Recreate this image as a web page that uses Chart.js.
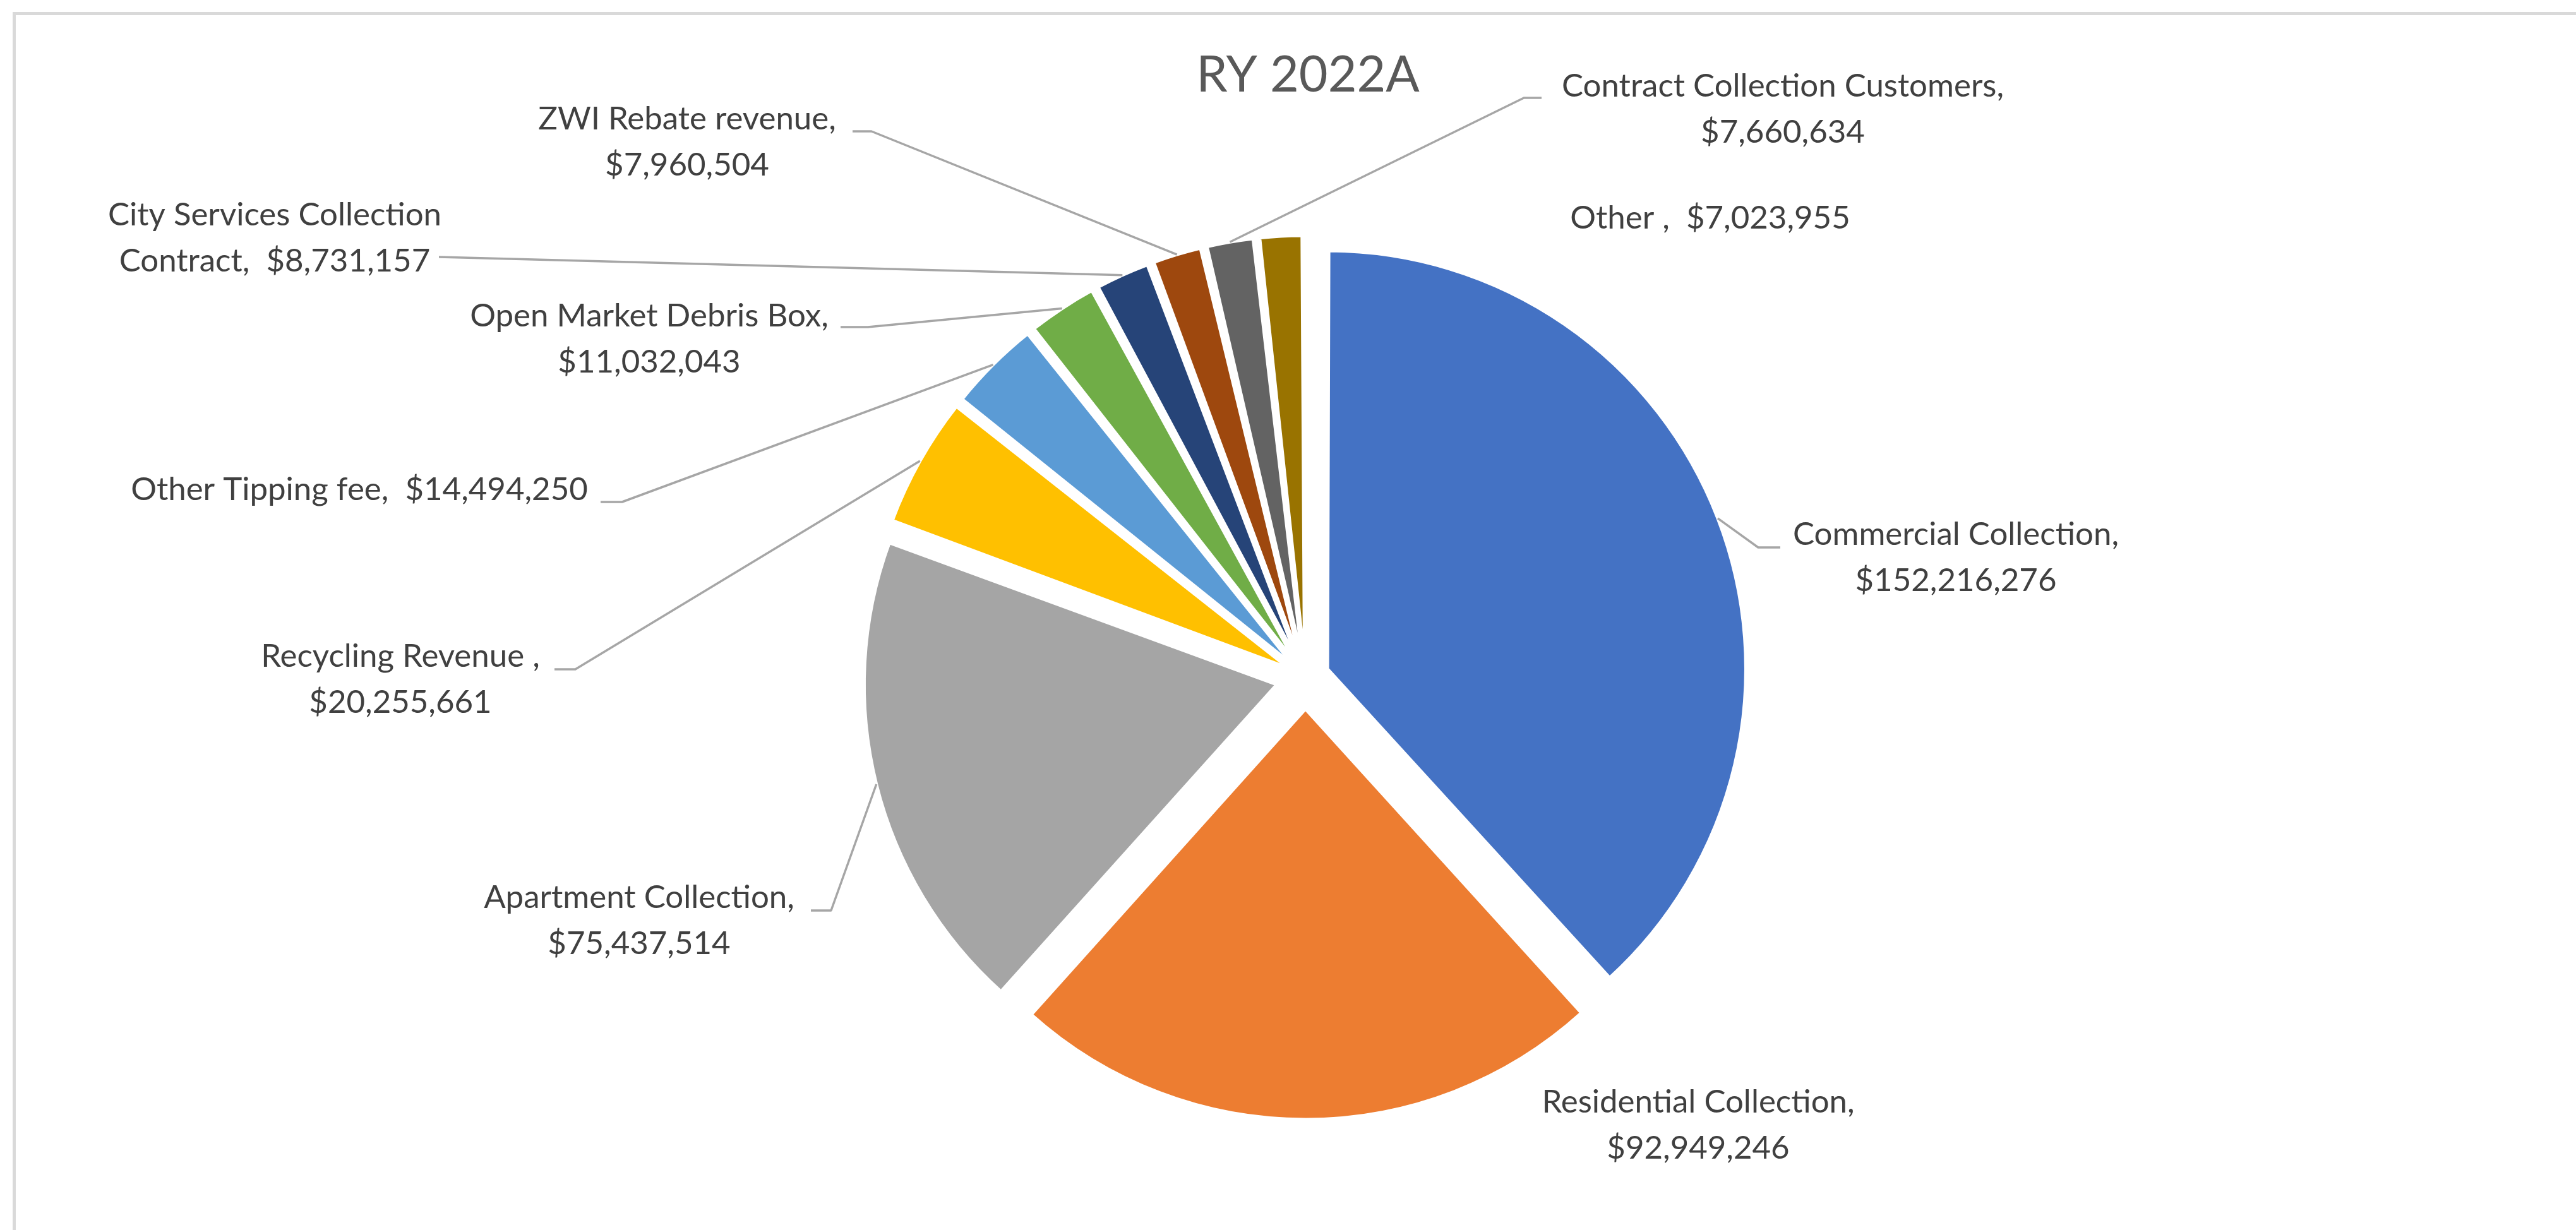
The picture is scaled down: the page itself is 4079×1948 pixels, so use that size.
<!DOCTYPE html>
<html>
<head>
<meta charset="utf-8">
<title>RY 2022A</title>
<script src="https://cdn.jsdelivr.net/npm/chart.js@4.4.1/dist/chart.umd.min.js"></script>
<style>
  html, body { margin: 0; padding: 0; background: #ffffff; overflow: hidden; }
  #wrap { position: relative; width: 100vw; height: 100vh; }
</style>
</head>
<body>
<div id="wrap"><canvas id="revenuePie"></canvas></div>
<script>
// ---- data ----
const chartTitle = 'RY 2022A';

const categories = [
  'Commercial Collection',
  'Residential Collection',
  'Apartment Collection',
  'Recycling Revenue ',
  'Other Tipping fee',
  'Open Market Debris Box',
  'City Services Collection Contract',
  'ZWI Rebate revenue',
  'Contract Collection Customers',
  'Other '
];

const values = [
  152216276,
  92949246,
  75437514,
  20255661,
  14494250,
  11032043,
  8731157,
  7960504,
  7660634,
  7023955
];

const sliceColors = [
  '#4472C4', '#ED7D31', '#A5A5A5', '#FFC000', '#5B9BD5',
  '#70AD47', '#264478', '#9E480E', '#636363', '#997300'
];

// ---- label placement (canvas px): text centre, first baseline, where the
// text wraps (n-th gap between words, 0 = single line) and the leader line
// start / elbow x (null = no leader) ----
const labelLayout = [
  { x: 3097, y: 863,  breakAt: 2, leader: [2819, 867, 2784] },
  { x: 2689, y: 1762, breakAt: 2, leader: null },
  { x: 1012, y: 1438, breakAt: 2, leader: [1284, 1442, 1316] },
  { x: 634,  y: 1056, breakAt: 3, leader: [878, 1060, 911] },
  { x: 569,  y: 792,  breakAt: 0, leader: [951, 795, 985] },
  { x: 1028, y: 517,  breakAt: 4, leader: [1331, 518, 1374] },
  { x: 435,  y: 357,  breakAt: 3, leader: [695, 407, 695] },
  { x: 1088, y: 205,  breakAt: 3, leader: [1350, 208, 1380] },
  { x: 2823, y: 153,  breakAt: 3, leader: [2441, 155, 2413] },
  { x: 2708, y: 362,  breakAt: 0, leader: null }
];

// ---- styling ----
const EXPLODE_PX = 50;          // distance every slice is pulled out
const PIE_RADIUS = 650;
const LABEL_FONT = '51px Lato';
const LABEL_LINE_GAP = 73;
const LABEL_COLOR = '#404040';
const TITLE_FONT = '79px Lato';
const TITLE_COLOR = '#595959';
const LEADER_COLOR = '#A6A6A6';
const FRAME_COLOR = '#D9D9D9';

const total = values.reduce((a, b) => a + b, 0);
const money = v => '$' + v.toLocaleString('en-US');

// Chart.js pulls an arc out by offset/4 * (2 - sin(angle)); invert that so
// every slice moves the same distance.
function uniformOffset(ctx) {
  const v = ctx.dataset.data[ctx.dataIndex];
  const circ = 2 * Math.PI * v / total;
  return 4 * EXPLODE_PX / (2 - Math.sin(Math.min(Math.PI, circ)));
}

function labelLines(i) {
  const parts = (categories[i] + ',  ' + money(values[i])).split(/(\s+)/);
  const brk = labelLayout[i].breakAt;
  const lines = [''];
  let gap = 0;
  parts.forEach(p => {
    if (/^\s+$/.test(p)) {
      gap++;
      if (gap === brk) { lines.push(''); return; }
    }
    lines[lines.length - 1] += p;
  });
  return lines.map(s => s.replace(/^\s+|\s+$/g, m => m)).map(s => s.trim() === '' ? s : s.replace(/^\s+/, ''));
}

function arcMidPoint(el) {
  const p = el.getProps(['x', 'y', 'startAngle', 'endAngle', 'outerRadius', 'circumference'], true);
  const mid = (p.startAngle + p.endAngle) / 2;
  const off = (el.options.offset || 0) / 4;
  const fix = 1 - Math.sin(Math.min(Math.PI, p.circumference || 0));
  const r = off + off * fix + p.outerRadius;
  return { x: p.x + Math.cos(mid) * r, y: p.y + Math.sin(mid) * r };
}

const framePlugin = {
  id: 'frame',
  beforeDraw(chart) {
    const ctx = chart.ctx;
    ctx.save();
    ctx.fillStyle = FRAME_COLOR;
    ctx.fillRect(20, 19, chart.width - 20, 5);
    ctx.fillRect(20, 19, 5, chart.height - 19);
    ctx.restore();
  }
};

const labelPlugin = {
  id: 'sliceLabels',
  afterDatasetsDraw(chart) {
    const ctx = chart.ctx;
    const arcs = chart.getDatasetMeta(0).data;
    ctx.save();
    // title
    ctx.font = TITLE_FONT;
    ctx.fillStyle = TITLE_COLOR;
    ctx.textAlign = 'center';
    ctx.textBaseline = 'alphabetic';
    ctx.fillText(chartTitle, 2071, 145);

    // leader lines
    ctx.strokeStyle = LEADER_COLOR;
    ctx.lineWidth = 3.5;
    ctx.lineJoin = 'round';
    labelLayout.forEach((lay, i) => {
      if (!lay.leader) return;
      const tip = arcMidPoint(arcs[i]);
      const [sx, sy, ex] = lay.leader;
      ctx.beginPath();
      ctx.moveTo(sx, sy);
      ctx.lineTo(ex, sy);
      ctx.lineTo(tip.x, tip.y);
      ctx.stroke();
    });

    // label text
    ctx.font = LABEL_FONT;
    ctx.fillStyle = LABEL_COLOR;
    labelLayout.forEach((lay, i) => {
      labelLines(i).forEach((ln, k) => ctx.fillText(ln, lay.x, lay.y + k * LABEL_LINE_GAP));
    });
    ctx.restore();
  }
};

new Chart(document.getElementById('revenuePie'), {
  type: 'pie',
  data: {
    labels: categories,
    datasets: [{
      data: values,
      backgroundColor: sliceColors,
      borderColor: '#ffffff',
      borderWidth: 5,
      offset: uniformOffset,
      hoverOffset: uniformOffset
    }]
  },
  options: {
    responsive: true,
    maintainAspectRatio: false,
    animation: false,
    events: [],
    radius: PIE_RADIUS,
    layout: { padding: { left: 155, right: 100, top: 248, bottom: 50 } },
    plugins: {
      legend: { display: false },
      title: { display: false },
      tooltip: { enabled: false }
    }
  },
  plugins: [framePlugin, labelPlugin]
});
</script>
</body>
</html>
